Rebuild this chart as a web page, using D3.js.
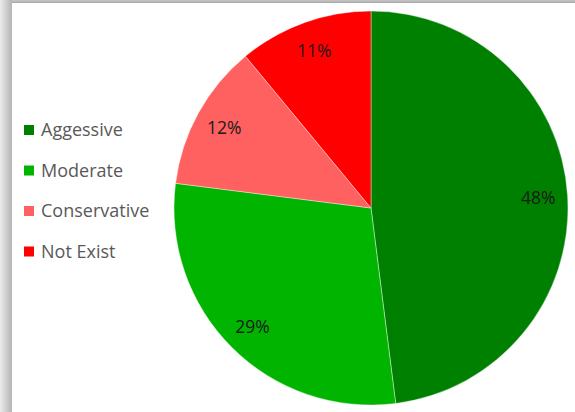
<!DOCTYPE html>
<html>
<head>
<meta charset="utf-8">
<script src="https://cdn.jsdelivr.net/npm/d3@7"></script>
<style>
  html, body { margin: 0; padding: 0; background: #fff; }
  svg { display: block; }
</style>
</head>
<body>
<svg id="chart" width="575" height="412"></svg>
<script>
// Investor profile shares
const categories = ["Aggessive", "Moderate", "Conservative", "Not Exist"];
const shares = [48, 29, 12, 11];
const colors = ["#008000", "#00B400", "#FF6161", "#FF0000"];

const W = 575, H = 412;
const svg = d3.select("#chart");
const FONT = "'Open Sans', 'Noto Sans', sans-serif";

// Card shadow along the top and left edges
const defs = svg.append("defs");
const lg = defs.append("linearGradient").attr("id", "leftShade")
  .attr("x1", "0%").attr("x2", "100%").attr("y1", "0%").attr("y2", "0%");
lg.append("stop").attr("offset", "0%").attr("stop-color", "#ececec");
lg.append("stop").attr("offset", "100%").attr("stop-color", "#b4b4b4");
const tg = defs.append("linearGradient").attr("id", "topShade")
  .attr("x1", "0%").attr("x2", "0%").attr("y1", "0%").attr("y2", "100%");
tg.append("stop").attr("offset", "0%").attr("stop-color", "#c8c8c8");
tg.append("stop").attr("offset", "100%").attr("stop-color", "#a8a8a8");

svg.append("rect").attr("x", 0).attr("y", 0).attr("width", W).attr("height", 3)
  .attr("fill", "url(#topShade)");
svg.append("rect").attr("x", 0).attr("y", 0).attr("width", 12).attr("height", H)
  .attr("fill", "url(#leftShade)");
svg.append("rect").attr("x", 12).attr("y", 3).attr("width", W - 12).attr("height", H - 3)
  .attr("fill", "#fff");

// Pie
const cx = 371, cy = 208, r = 197;
const pie = d3.pie().sort(null).value(d => d)
  .startAngle(0).endAngle(2 * Math.PI);
const arcs = pie(shares);
const arc = d3.arc().innerRadius(0).outerRadius(r);

const g = svg.append("g").attr("transform", `translate(${cx},${cy})`);
g.selectAll("path.slice").data(arcs).enter().append("path")
  .attr("class", "slice")
  .attr("d", arc)
  .attr("fill", (d, i) => colors[i])
  .attr("stroke", "#fff")
  .attr("stroke-width", 0.4);

// Percentage labels near the rim
const labelPos = d3.arc().innerRadius(r * 0.85).outerRadius(r * 0.85);
g.selectAll("text.pct").data(arcs).enter().append("text")
  .attr("class", "pct")
  .attr("transform", d => {
    const [x, y] = labelPos.centroid(d);
    return `translate(${x},${y})`;
  })
  .attr("text-anchor", "middle")
  .attr("dy", "0.36em")
  .attr("font-family", FONT)
  .attr("font-size", 17.5)
  .attr("fill", "#1a1a1a")
  .text(d => d.data + "%");

// Legend
const legend = svg.append("g").attr("transform", "translate(24,130)");
const items = legend.selectAll("g").data(categories).enter().append("g")
  .attr("transform", (d, i) => `translate(0,${i * 40.5})`);
items.append("rect").attr("x", 0).attr("y", -5).attr("width", 10).attr("height", 10)
  .attr("fill", (d, i) => colors[i]);
items.append("text").attr("x", 17).attr("y", 0).attr("dy", "0.36em")
  .attr("font-family", FONT)
  .attr("font-size", 18)
  .attr("fill", "#595959")
  .text(d => d);
</script>
</body>
</html>
